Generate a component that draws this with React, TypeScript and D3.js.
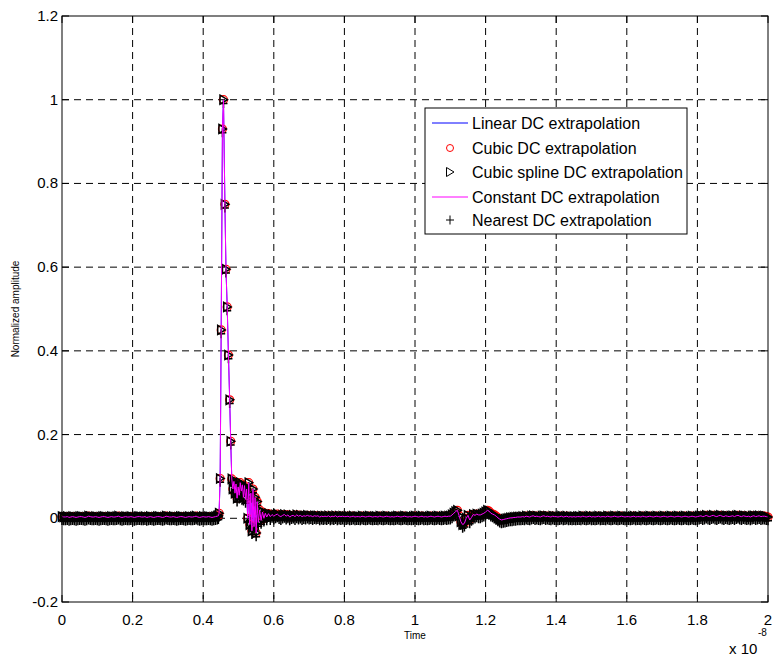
import React from 'react';
import * as d3 from 'd3';

// waveform samples, time in units of 1e-8 s, flat parts in units of 1e-3
const sampleStep = 0.005;
const milli = 0.001;

// flat part before the pulse, from t = 0
const preStart = 0;
const preMilli = [
  4, 3, 3, 4, 2, 3, 4, 3, 2, 3,
  4, 4, 3, 2, 3, 5, 4, 3, 3, 4,
  3, 2, 3, 4, 4, 3, 2, 3, 4, 3,
  3, 4, 5, 3, 2, 3, 4, 3, 3, 4,
  3, 2, 3, 4, 4, 3, 3, 4, 2, 3,
  4, 3, 2, 3, 4, 4, 3, 2, 3, 5,
  4, 3, 3, 4, 3, 2, 3, 4, 4, 3,
  2, 3, 4, 3, 3, 4, 5, 3, 2, 3,
  4, 3, 3, 4, 3, 2, 3, 4, 5,
];

// pulse and ringing: [time, amplitude]
const pulsePairs: [number, number][] = [
  [0.443, 0.006], [0.445, 0.012], [0.448, 0.095], [0.451, 0.45], [0.4545, 0.93],
  [0.4575, 1.0], [0.4615, 0.75], [0.4645, 0.595], [0.468, 0.505], [0.4715, 0.39],
  [0.475, 0.283], [0.478, 0.184], [0.481, 0.094], [0.484, 0.07], [0.487, 0.088],
  [0.49, 0.06], [0.493, 0.082], [0.496, 0.048], [0.499, 0.075], [0.502, 0.055],
  [0.505, 0.085], [0.508, 0.065], [0.511, 0.08], [0.514, 0.05], [0.517, 0.078],
  [0.52, 0.045], [0.523, 0.07], [0.526, 0.0], [0.529, 0.085], [0.532, -0.015],
  [0.535, 0.06], [0.538, -0.03], [0.541, 0.07], [0.544, -0.02], [0.547, 0.05],
  [0.55, -0.035], [0.553, 0.04], [0.556, -0.01], [0.56, 0.02], [0.564, -0.005],
  [0.568, 0.015], [0.572, 0.0], [0.576, 0.012], [0.58, 0.003], [0.585, 0.011],
  [0.59, 0.004], [0.595, 0.009], [0.6, 0.005],
];

// tail after the ringing, from t = 0.605
const postStart = 0.605;
const postMilli = [
  8, 10, 6, 4, 7, 9, 5, 8, 3, 6,
  7, 4, 8, 5, 7, 4, 6, 5, 7, 5,
  6, 4, 6, 5, 6, 3, 5, 4, 5, 4,
  6, 3, 5, 4, 6, 3, 5, 4, 5, 4,
  4, 5, 3, 4, 5, 3, 4, 4, 3, 5,
  4, 3, 4, 5, 4, 3, 4, 4, 3, 5,
  4, 3, 4, 5, 4, 3, 4, 3, 4, 5,
  4, 3, 4, 5, 4, 3, 4, 3, 4, 5,
  4, 3, 4, 5, 3, 4, 3, 4, 5, 4,
  3, 4, 5, 4, 3, 4, 5, 4, 5, 5,
  8, 12, 16, 19, 6, -8, -15, -12, 0, 7,
  -4, 2, 9, 7, 10, 8, 8, 10, 12, 15,
  19, 17, 12, 10, 8, 5, 1, -2, -4, -3,
  -2, -1, 0, 1, 1, 2, 2, 3, 3, 3,
  4, 3, 5, 4, 3, 5, 6, 4, 5, 4,
  3, 5, 6, 4, 5, 4, 3, 5, 4, 4,
  3, 4, 5, 3, 4, 5, 3, 4, 3, 4,
  3, 4, 4, 3, 5, 4, 3, 4, 5, 3,
  4, 3, 4, 5, 3, 4, 4, 3, 5, 4,
  3, 4, 5, 4, 3, 4, 5, 4, 3, 4,
  4, 3, 4, 5, 3, 4, 4, 3, 5, 4,
  3, 4, 5, 4, 3, 4, 5, 4, 3, 4,
  5, 4, 3, 4, 5, 4, 3, 4, 5, 4,
  3, 4, 5, 4, 3, 4, 5, 4, 3, 4,
  5, 6, 4, 5, 7, 5, 4, 6, 7, 5,
  4, 6, 7, 5, 4, 6, 5, 4, 5, 6,
  4, 6, 7, 5, 4, 6, 5, 4, 5, 3,
  5, 6, 4, 5, 6, 4, 5, 5, 4, 3,
];

// the nearest-neighbour extrapolation sits slightly lower
const nearestDcOffset = -0.009;

const seriesNames = [
  'Linear DC extrapolation',
  'Cubic DC extrapolation',
  'Cubic spline DC extrapolation',
  'Constant DC extrapolation',
  'Nearest DC extrapolation',
];

const xTicks = [0, 0.2, 0.4, 0.6, 0.8, 1, 1.2, 1.4, 1.6, 1.8, 2];
const xTickLabels = ['0', '0.2', '0.4', '0.6', '0.8', '1', '1.2', '1.4', '1.6', '1.8', '2'];
const yTicks = [-0.2, 0, 0.2, 0.4, 0.6, 0.8, 1, 1.2];
const yTickLabels = ['-0.2', '0', '0.2', '0.4', '0.6', '0.8', '1', '1.2'];

const W = 773;
const H = 660;
const margin = { top: 16, right: 5, bottom: 58, left: 62 };
const FONT = '"Liberation Sans", Arial, sans-serif';

const points: [number, number][] = [
  ...preMilli.map((v, i) => [preStart + i * sampleStep, v * milli] as [number, number]),
  ...pulsePairs,
  ...postMilli.map((v, i) => [postStart + i * sampleStep, v * milli] as [number, number]),
];

const triPath = (cx: number, cy: number) =>
  `M${cx - 3.5},${cy - 4.5}L${cx + 4},${cy}L${cx - 3.5},${cy + 4.5}Z`;
const plusPath = (cx: number, cy: number) =>
  `M${cx - 4},${cy}H${cx + 4}M${cx},${cy - 4.5}V${cy + 4.5}`;

export default function App() {
  const x = d3.scaleLinear().domain([0, 2]).range([margin.left, W - margin.right]);
  const y = d3.scaleLinear().domain([-0.2, 1.2]).range([H - margin.bottom, margin.top]);
  const x0 = x(0), x1 = x(2), yTop = y(1.2), yBot = y(-0.2);

  const line = d3.line<[number, number]>().x(d => x(d[0])).y(d => y(d[1]));
  const pathD = line(points) || '';

  const legX = 425, legY = 108, legW = 262, legH = 126;
  const rowYs = [123, 148, 172, 197, 220];
  const sampleX0 = 432, sampleX1 = 468, sampleMid = 450;

  return (
    <svg width={W} height={H} style={{ position: 'absolute', left: 0, top: 0, background: '#fff' }}
      fontFamily={FONT}>
      <rect x={0} y={0} width={W} height={H} fill="#fff" />

      {/* grid */}
      {xTicks.slice(1, -1).map(t => (
        <line key={'gx' + t} x1={x(t)} x2={x(t)} y1={yTop} y2={yBot}
          stroke="#000" strokeWidth={1} strokeDasharray="7,5" />
      ))}
      {yTicks.slice(1, -1).map(t => (
        <line key={'gy' + t} x1={x0} x2={x1} y1={y(t)} y2={y(t)}
          stroke="#000" strokeWidth={1} strokeDasharray="7,5" />
      ))}

      {/* series */}
      <path d={pathD} fill="none" stroke="#0000ff" strokeWidth={1} />
      {points.map((p, i) => (
        <circle key={'c' + i} cx={x(p[0])} cy={y(p[1])} r={4} fill="none" stroke="#ff0000" strokeWidth={1.2} />
      ))}
      {points.map((p, i) => (
        <path key={'t' + i} d={triPath(x(p[0]), y(p[1]))} fill="none" stroke="#000" strokeWidth={1.5} />
      ))}
      {points.map((p, i) => (
        <path key={'p' + i} d={plusPath(x(p[0]), y(p[1] + nearestDcOffset))} fill="none" stroke="#000" strokeWidth={1.5} />
      ))}
      <path d={pathD} fill="none" stroke="#ff00ff" strokeWidth={1} />

      {/* axes box and ticks */}
      <rect x={x0} y={yTop} width={x1 - x0} height={yBot - yTop} fill="none" stroke="#000" strokeWidth={1} />
      {xTicks.map(t => (
        <g key={'xt' + t}>
          <line x1={x(t)} x2={x(t)} y1={yBot} y2={yBot - 7} stroke="#000" />
          <line x1={x(t)} x2={x(t)} y1={yTop} y2={yTop + 7} stroke="#000" />
        </g>
      ))}
      {yTicks.map(t => (
        <g key={'yt' + t}>
          <line x1={x0} x2={x0 + 7} y1={y(t)} y2={y(t)} stroke="#000" />
          <line x1={x1} x2={x1 - 7} y1={y(t)} y2={y(t)} stroke="#000" />
        </g>
      ))}
      {xTicks.map((t, i) => (
        <text key={'xl' + t} x={x(t)} y={yBot + 23} textAnchor="middle" fontSize={15} fill="#000">
          {xTickLabels[i]}
        </text>
      ))}
      {yTicks.map((t, i) => (
        <text key={'yl' + t} x={x0 - 4} y={y(t) + 5} textAnchor="end" fontSize={15} fill="#000">
          {yTickLabels[i]}
        </text>
      ))}

      {/* axis labels */}
      <text x={415} y={639} textAnchor="middle" fontSize={10} fill="#000">Time</text>
      <text transform={`translate(19,${(yTop + yBot) / 2}) rotate(-90)`} textAnchor="middle" fontSize={10} fill="#000">
        Normalized amplitude
      </text>
      <text x={729} y={654} fontSize={15} fill="#000">x 10</text>
      <text x={758} y={636} fontSize={10} fill="#000">-8</text>

      {/* legend */}
      <rect x={legX} y={legY} width={legW} height={legH} fill="#fff" stroke="#000" strokeWidth={1} />
      <line x1={sampleX0} x2={sampleX1} y1={rowYs[0]} y2={rowYs[0]} stroke="#0000ff" />
      <circle cx={sampleMid} cy={rowYs[1]} r={3.5} fill="none" stroke="#ff0000" />
      <path d={triPath(sampleMid, rowYs[2])} fill="none" stroke="#000" />
      <line x1={sampleX0} x2={sampleX1} y1={rowYs[3]} y2={rowYs[3]} stroke="#ff00ff" />
      <path d={plusPath(sampleMid, rowYs[4])} fill="none" stroke="#000" />
      {seriesNames.map((name, i) => (
        <text key={name} x={472} y={rowYs[i] + 6} fontSize={16} fill="#000">{name}</text>
      ))}
    </svg>
  );
}
